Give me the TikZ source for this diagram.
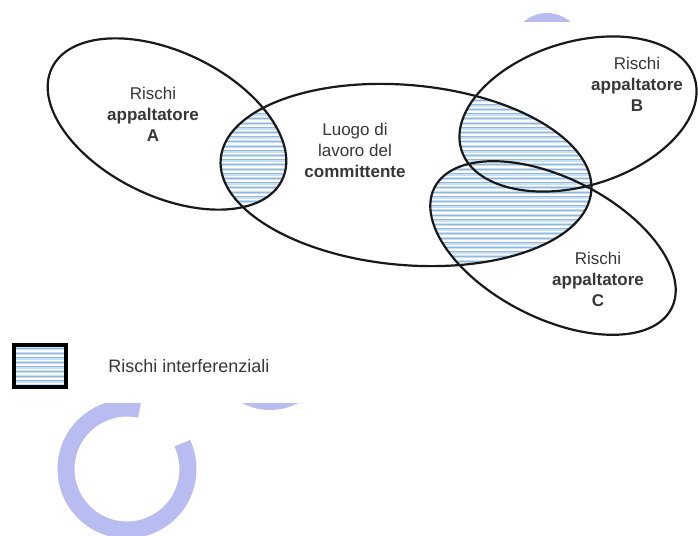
\documentclass[tikz,border=0pt]{standalone}
\usepackage{fontspec}
\setmainfont{Liberation Sans}
\usepackage{tikz}
\usepackage{xcolor}
\usetikzlibrary{positioning}

\definecolor{lilla}{RGB}{184,188,240}
\definecolor{azzurro}{RGB}{200,224,246}
\definecolor{riga}{RGB}{150,182,214}
\definecolor{testo}{RGB}{55,55,55}

% i quattro insiemi (coordinate in px, y verso il basso)
\newcommand{\ovA}{[rotate around={-26:(167,124)}] (167,124) ellipse [x radius=128, y radius=72]}
\newcommand{\ovL}{[rotate around={-5:(406,175)}] (406,175) ellipse [x radius=186, y radius=90]}
\newcommand{\ovB}{[rotate around={17:(578,114)}] (578,114) ellipse [x radius=122, y radius=72]}
\newcommand{\ovC}{[rotate around={-27:(553,248)}] (553,248) ellipse [x radius=133, y radius=70]}
\newcommand{\righe}{%
  \fill[azzurro] (0,0) rectangle (698,535);
  \foreach \y in {20,24.6,...,400} {
    \draw[white, line width=1.7pt] (0,\y) -- (698,\y);
    \draw[riga, line width=.5pt] (0,\y+1.6) -- (698,\y+1.6);
  }}

\begin{document}
\begin{tikzpicture}[x=1pt, y=-1pt,
    bordo/.style={draw=black!90, line width=2.2pt},
    etich/.style={align=center, text=testo, font=\fontsize{17}{21}\selectfont}]
  \useasboundingbox (0,0) rectangle (698,535);
  % logo in filigrana
  \draw[lilla, line width=17pt] (127,469) ++(-78:61) arc[start angle=-78, end angle=-385, radius=61];
  \fill[lilla] (270,350) circle (60);
  \fill[lilla] (547,48) circle (35);
  \fill[white] (0,22) rectangle (698,403);
  % rischi interferenziali
  \begin{scope}
    \clip \ovA;
    \clip \ovL;
    \righe
  \end{scope}
  \begin{scope}
    \clip \ovL;
    \clip \ovB;
    \righe
  \end{scope}
  \begin{scope}
    \clip \ovL;
    \clip \ovC;
    \righe
  \end{scope}
  \draw[bordo] \ovA;
  \draw[bordo] \ovL;
  \draw[bordo] \ovB;
  \draw[bordo] \ovC;
  \node[etich] (tA) at (153,114) {Rischi\\\textbf{appaltatore}\\\textbf{A}};
  \node[etich] (tL) at (355,150) {Luogo di\\lavoro del\\\textbf{committente}};
  \node[etich] (tB) at (637,84) {Rischi\\\textbf{appaltatore}\\\textbf{B}};
  \node[etich] (tC) at (598,279) {Rischi\\\textbf{appaltatore}\\\textbf{C}};
  % legenda
  \begin{scope}
    \clip (14,345) rectangle (66,387);
    \righe
  \end{scope}
  \node[draw=black, line width=3.5pt, minimum width=52pt, minimum height=42pt, inner sep=0pt] (legenda) at (40,366) {};
  \node[etich, font=\fontsize{18}{21}\selectfont, anchor=west, right=37pt of legenda] (voce) {Rischi interferenziali};
\end{tikzpicture}
\end{document}
